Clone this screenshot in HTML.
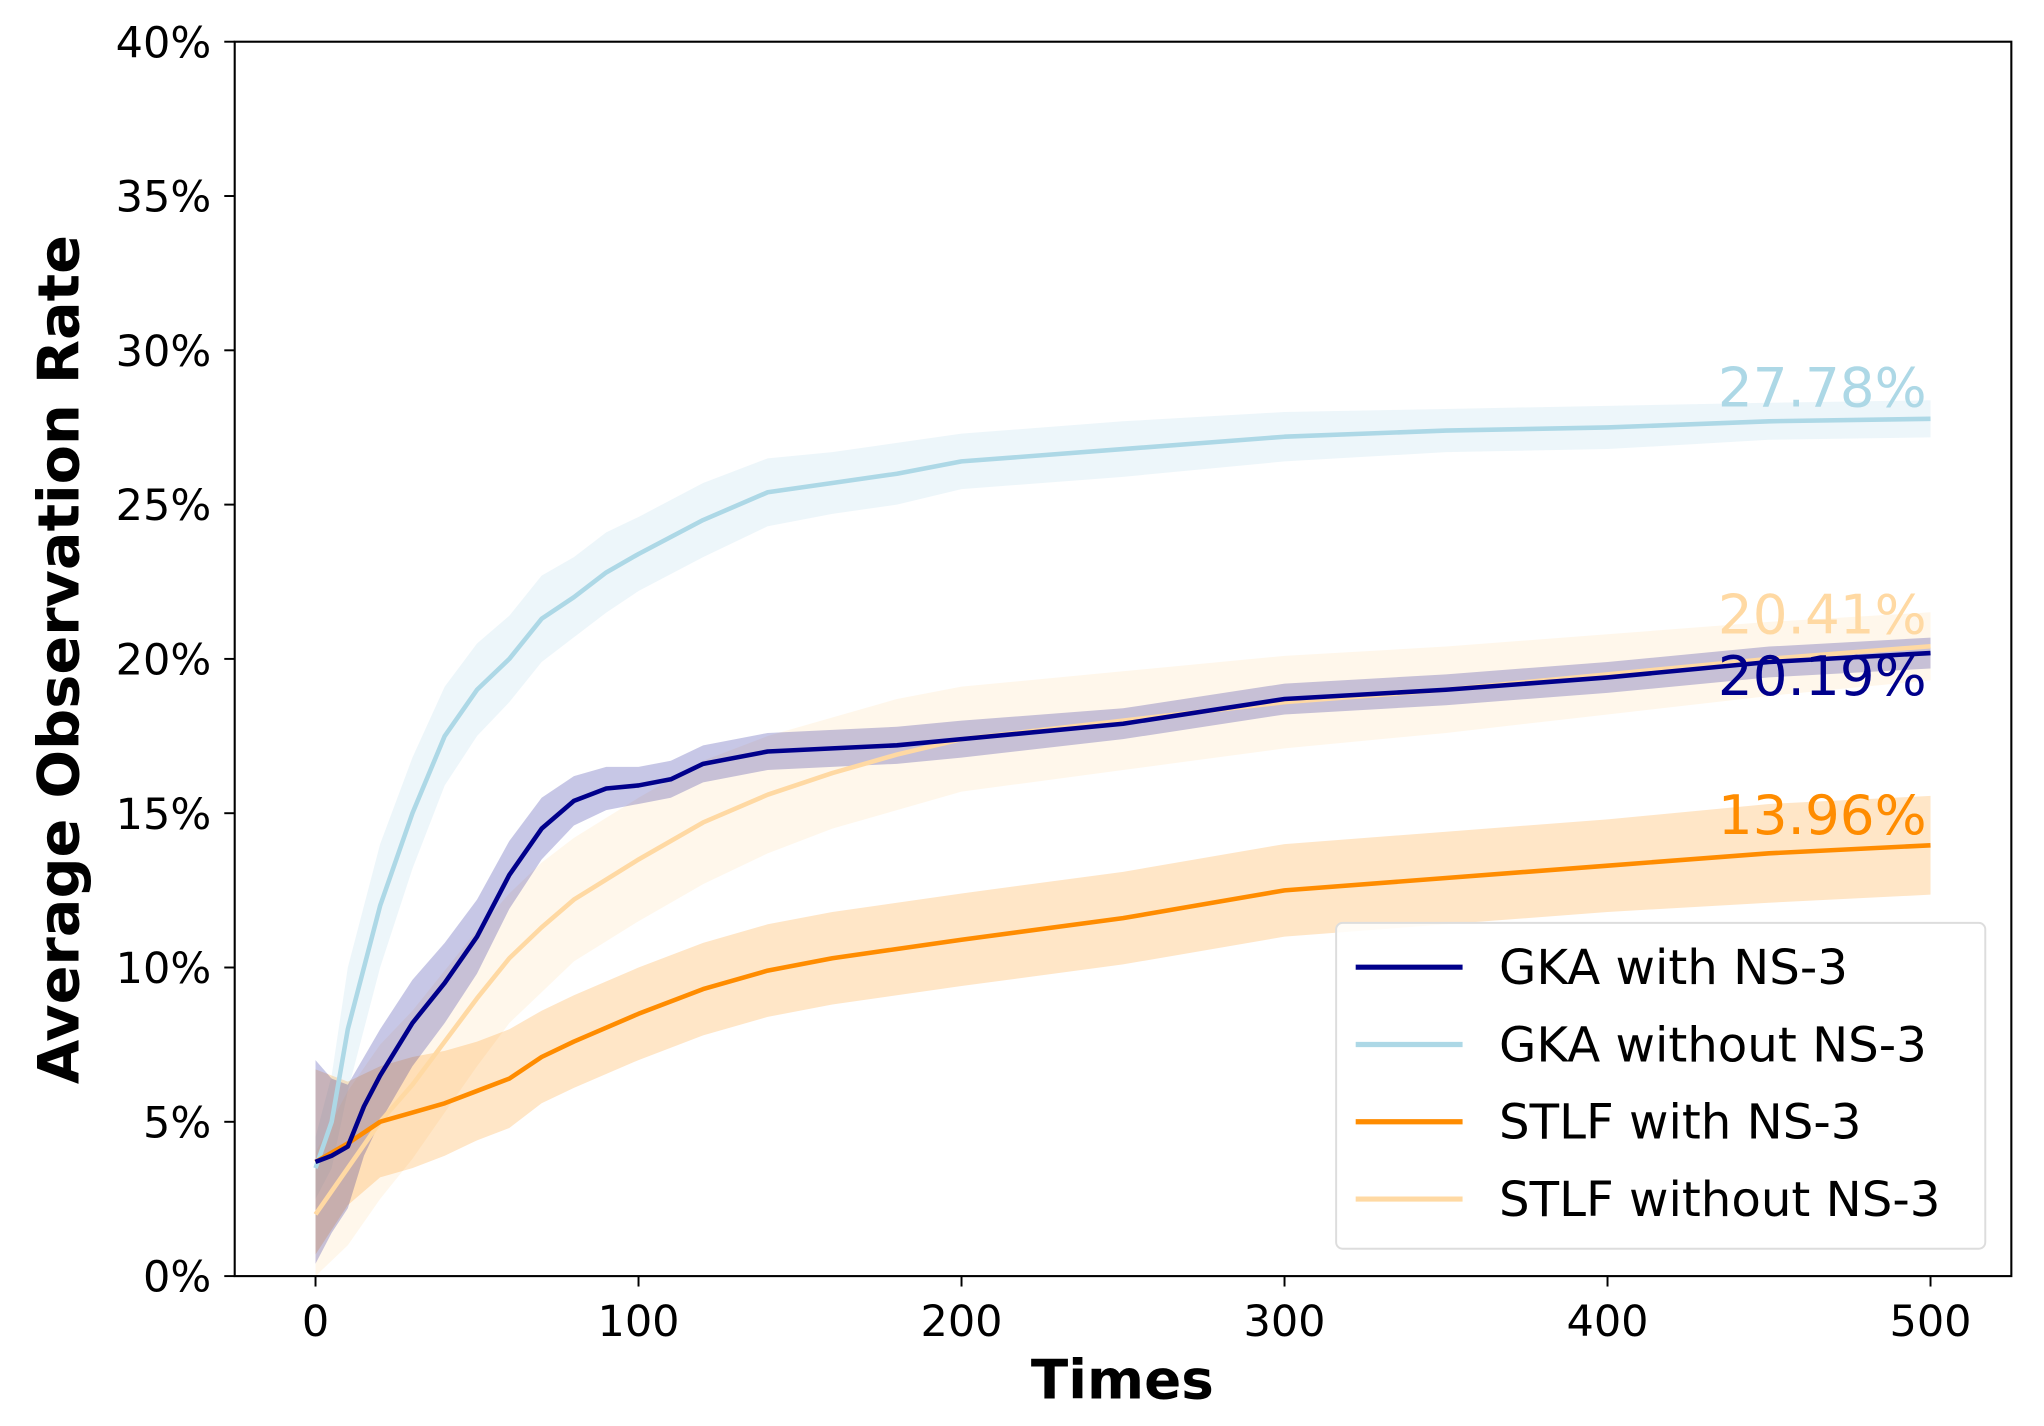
<!DOCTYPE html>
<html><head><meta charset="utf-8"><style>
html,body{margin:0;padding:0;background:#fff;}
svg{display:block;font-family:"DejaVu Sans","Liberation Sans",sans-serif;}
</style></head><body>
<svg width="2044" height="1426" viewBox="0 0 1568 1094" xmlns="http://www.w3.org/2000/svg">
<g id="bands"></g>
<g id="lines"></g>
<rect x="180" y="32" width="1363" height="947" fill="none" stroke="#000" stroke-width="1.6"/>
<g id="axes"></g>
<text x="861" y="1073" text-anchor="middle" font-size="42" font-weight="bold">Times</text>
<text transform="translate(60,506) rotate(-90)" text-anchor="middle" font-size="44" font-weight="bold">Average Observation Rate</text>
<g id="annots"></g>
<g>
<rect x="1025" y="708" width="498" height="250" rx="5" fill="#fff" fill-opacity="0.85" stroke="#ddd" stroke-width="1.5"/>
<g id="legend"></g>
</g>
</svg>
<script>
const ticksX = [0,100,200,300,400,500];
const ticksY = [0,5,10,15,20,25,30,35,40];
const seriesNames = ["GKA with NS-3","GKA without NS-3","STLF with NS-3","STLF without NS-3"];
const gkaT = [0,5,10,15,20,30,40,50,60,70,80,90,100,110,120,140,160,180,200,250,300,350,400,450,500];
const gkaV = [3.7,3.9,4.2,5.5,6.5,8.2,9.5,11,13,14.5,15.4,15.8,15.9,16.1,16.6,17,17.1,17.2,17.4,17.9,18.7,19.0,19.4,19.9,20.19];
const gkaE = [3.3,2.5,2,1.6,1.5,1.4,1.3,1.2,1.1,1.0,0.8,0.7,0.6,0.6,0.6,0.6,0.6,0.6,0.6,0.5,0.5,0.5,0.5,0.5,0.5];
const gkaNT = [0,5,10,20,30,40,50,60,70,80,90,100,120,140,160,180,200,250,300,350,400,450,500];
const gkaNV = [3.5,5,8,12,15,17.5,19,20,21.3,22,22.8,23.4,24.5,25.4,25.7,26,26.4,26.8,27.2,27.4,27.5,27.7,27.78];
const gkaNE = [1,1.5,2,2,1.8,1.6,1.5,1.4,1.4,1.3,1.3,1.2,1.2,1.1,1.0,1.0,0.9,0.9,0.8,0.7,0.7,0.6,0.6];
const stT = [0,10,20,30,40,50,60,70,80,100,120,140,160,180,200,250,300,350,400,450,500];
const stV = [3.7,4.3,5.0,5.3,5.6,6.0,6.4,7.1,7.6,8.5,9.3,9.9,10.3,10.6,10.9,11.6,12.5,12.9,13.3,13.7,13.96];
const stE = [3,2,1.8,1.8,1.7,1.6,1.6,1.5,1.5,1.5,1.5,1.5,1.5,1.5,1.5,1.5,1.5,1.5,1.5,1.6,1.6];
const stNT = [0,10,20,30,40,50,60,70,80,100,120,140,160,180,200,250,300,350,400,450,500];
const stNV = [2.0,3.5,5,6.2,7.6,9,10.3,11.3,12.2,13.5,14.7,15.6,16.3,16.9,17.4,18,18.6,19.0,19.5,20,20.41];
const stNE = [2,2.5,2.5,2.4,2.3,2.2,2.1,2.1,2,2,2,1.9,1.8,1.8,1.7,1.6,1.5,1.4,1.3,1.2,1.1];
const annotVals = ["27.78%","20.41%","20.19%","13.96%"];

const X = t => 242 + (t/500)*(1481-242);
const Y = v => 979 - (v/40)*(979-32);
const NS = "http://www.w3.org/2000/svg";
function mk(tag, attrs, parent){const e=document.createElementNS(NS,tag);for(const k in attrs)e.setAttribute(k,attrs[k]);parent.appendChild(e);return e;}
const series = [
 {t:gkaNT,v:gkaNV,e:gkaNE,c:"#add8e6",n:"gka-without-ns3"},
 {t:stNT,v:stNV,e:stNE,c:"#ffd9a3",n:"stlf-without-ns3"},
 {t:stT,v:stV,e:stE,c:"#ff8c00",n:"stlf-with-ns3"},
 {t:gkaT,v:gkaV,e:gkaE,c:"#00008b",n:"gka-with-ns3"}
];
const bands=document.getElementById('bands'), lines=document.getElementById('lines');
series.forEach(s=>{
  let up=s.t.map((t,i)=>X(t)+","+Y(s.v[i]+s.e[i]));
  let dn=s.t.map((t,i)=>X(t)+","+Y(Math.max(0,s.v[i]-s.e[i]))).reverse();
  const b=mk('polygon',{points:up.concat(dn).join(' '),fill:s.c,'fill-opacity':0.22},bands);
  
  
  const l=mk('polyline',{points:s.t.map((t,i)=>X(t)+","+Y(s.v[i])).join(' '),fill:'none',stroke:s.c,'stroke-width':3.5,'stroke-linejoin':'round'},lines);
  
  
});
const axes=document.getElementById('axes');
ticksX.forEach(t=>{
  const tk=mk('line',{x1:X(t),x2:X(t),y1:979,y2:987,stroke:'#000','stroke-width':1.5},axes);
  
  
  const tx=mk('text',{x:X(t),y:1025,'text-anchor':'middle','font-size':33},axes);tx.textContent=t;
  
  
});
ticksY.forEach(v=>{
  const tk=mk('line',{x1:172,x2:180,y1:Y(v),y2:Y(v),stroke:'#000','stroke-width':1.5},axes);
  
  
  const tx=mk('text',{x:162,y:Y(v)+12,'text-anchor':'end','font-size':33},axes);tx.textContent=v+"%";
  
  
});
const an=document.getElementById('annots');
const annotColors=["#add8e6","#ffd9a3","#00008b","#ff8c00"];
const annotY=[312,486,533,640];
annotVals.forEach((a,i)=>{
  const tx=mk('text',{x:1478,y:annotY[i],'text-anchor':'end','font-size':42,fill:annotColors[i]},an);tx.textContent=a;
  
  
});
const lg=document.getElementById('legend');
const legColors=["#00008b","#add8e6","#ff8c00","#ffd9a3"];
seriesNames.forEach((n,i)=>{
  const y=742+i*59.3;
  const l=mk('line',{x1:1040,x2:1122,y1:y,y2:y,stroke:legColors[i],'stroke-width':4},lg);
  
  
  const tx=mk('text',{x:1150,y:y+13,'font-size':37},lg);tx.textContent=n;
  
  
});
</script>
</body></html>
